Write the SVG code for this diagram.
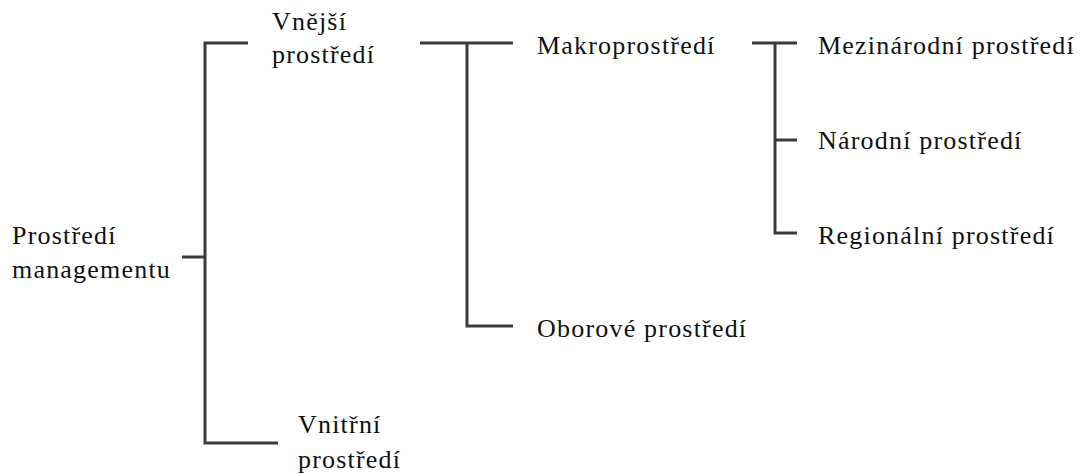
<svg xmlns="http://www.w3.org/2000/svg" width="1083" height="474" viewBox="0 0 1083 474">
<style>
.t{font-family:'Liberation Serif','DejaVu Serif',serif;font-size:26px;fill:#111;letter-spacing:1.2px}
.c{stroke:#3a3a3a;stroke-width:3;fill:none}
</style>
<rect width="1083" height="474" fill="#fff"/>
<g id="connectors">
<path class="c" d="M182 257H205M248 43H205V443H278"/>
<path class="c" d="M420 43H513M467 43V326H513"/>
<path class="c" d="M752 43H797M775 43V233H797M775 140H797"/>
</g>
<g class="t">
<g id="n-root"><text x="12" y="244">Prostředí</text><text x="12" y="278">managementu</text></g>
<g id="n-vnejsi"><text x="272" y="30">Vnější</text><text x="272" y="63">prostředí</text></g>
<g id="n-vnitrni"><text x="298" y="433">Vnitřní</text><text x="298" y="468">prostředí</text></g>
<g id="n-makro"><text x="537" y="54">Makroprostředí</text></g>
<g id="n-obor"><text x="537" y="337">Oborové prostředí</text></g>
<g id="n-mezi"><text x="818" y="54">Mezinárodní prostředí</text></g>
<g id="n-narod"><text x="818" y="149">Národní prostředí</text></g>
<g id="n-region"><text x="818" y="244">Regionální prostředí</text></g>
</g>
</svg>
